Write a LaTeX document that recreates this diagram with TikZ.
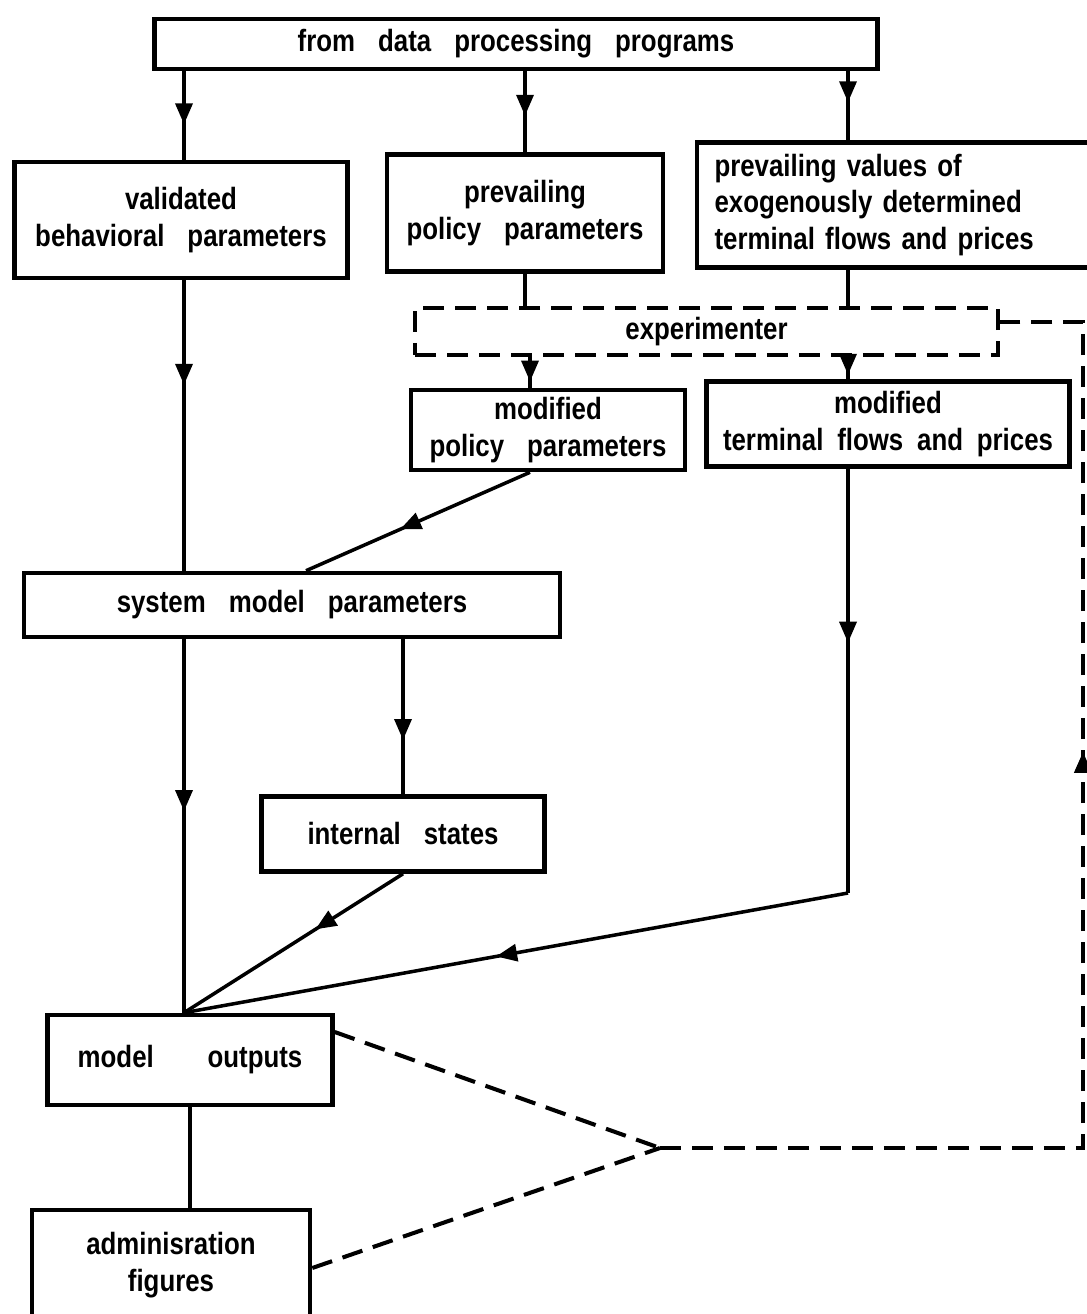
\documentclass[tikz,border=0pt]{standalone}
\usepackage{fontspec}
\setmainfont{Liberation Sans}[FakeStretch=0.84]
\usetikzlibrary{arrows.meta,decorations.markings}
% lettering used in the boxes: normal and tighter word spacing
\newcommand\lettering{\fontsize{17.5}{21}\selectfont\bfseries\spaceskip=0.75em plus 0.1em\relax}
\newcommand\letteringmid{\fontsize{17.5}{21}\selectfont\bfseries\spaceskip=0.55em plus 0.1em\relax}
\newcommand\letteringtight{\fontsize{17.5}{21}\selectfont\bfseries\spaceskip=0.45em plus 0.1em\relax}
\tikzset{
  blk/.style={draw, line width=2.6pt, inner sep=0pt, align=center, font=\lettering},
  conn/.style={line width=2pt},
  midtip/.style={postaction={decorate}, decoration={markings,
      mark=at position #1 with {\arrow{Triangle[length=0.42cm,width=0.34cm]}}}},
  dsh/.style={line width=2.3pt, dash pattern=on 0.42cm off 0.22cm},
}
\begin{document}
\begin{tikzpicture}[x=0.02cm, y=-0.02cm]
\useasboundingbox (0,0) rectangle (1087,1314);
\fill[white] (0,0) rectangle (1087,1314);

% column positions of the vertical connectors
\coordinate (c1) at (184,0);
\coordinate (c2) at (530,0);
\coordinate (c3) at (848,0);
\coordinate (c4) at (306,0);

% boxes
\node[blk, minimum width=14.46cm, minimum height=1.0cm] (src) at (516,44) {from data processing programs};
\node[blk, minimum width=6.66cm, minimum height=2.32cm] (vb) at (181,220) {validated\\behavioral parameters};
\node[blk, minimum width=5.52cm, minimum height=2.34cm] (pp) at (525,213) {prevailing\\policy parameters};
\node[blk, minimum width=7.9cm, minimum height=2.5cm, align=left, text width=7.2cm,
      font=\letteringmid] (pv) at (894.5,205)
  {prevailing values of\\exogenously determined\\terminal flows and prices};
\node[font=\lettering, draw, dsh, inner sep=0pt, minimum width=11.66cm, minimum height=0.94cm] (ex) at (706.5,331.5) {experimenter};
\node[blk, minimum width=5.48cm, minimum height=1.6cm] (mp) at (548,430) {modified\\policy parameters};
\node[blk, minimum width=7.26cm, minimum height=1.7cm, font=\letteringtight] (mt) at (888,424) {modified\\terminal flows and prices};
\node[blk, minimum width=10.72cm, minimum height=1.28cm] (sm) at (292,605) {system model parameters};
\node[blk, minimum width=5.66cm, minimum height=1.5cm] (is) at (403,834) {internal states};
\node[blk, minimum width=5.7cm, minimum height=1.8cm] (mo) at (190,1060) {model \quad outputs};
\node[blk, minimum width=5.56cm, minimum height=2.2cm] (af) at (171,1265) {adminisration\\figures};

% data feeds
\draw[conn, midtip=0.6] (src.south -| c1) -- (vb.north -| c1);
\draw[conn, midtip=0.55] (src.south -| pp.north) -- (pp.north);
\draw[conn, midtip=0.45] (src.south -| c3) -- (pv.north -| c3);

% into and out of the experimenter
\draw[conn] (pp.south) -- (ex.north -| pp.south);
\draw[conn] (pv.south -| c3) -- (ex.north -| c3);
\draw[conn, midtip=0.8] (ex.south -| c2) -- (mp.north -| c2);
\draw[conn, midtip=0.8] (ex.south -| c3) -- (mt.north -| c3);

% parameters into the system model
\draw[conn, midtip=0.36] (vb.south -| c1) -- (sm.north -| c1);
\draw[conn, midtip=0.58] (mp.south -| c2) -- (sm.north -| c4);

% system model to outputs
\coordinate (mix) at (mo.north -| c1);
\draw[conn, midtip=0.46] (sm.south -| c1) -- (mix);
\draw[conn, midtip=0.65] (sm.south -| is.north) -- (is.north);
\draw[conn, midtip=0.4] (is.south) -- (mix);
\coordinate (bend) at (848,893);
\draw[conn, midtip=0.41] (mt.south -| c3) -- (bend);
\draw[conn, midtip=0.53] (bend) -- (mix);
\draw[conn] (mo.south) -- (af.north -| mo.south);

% feedback to the experimenter
\coordinate (jn) at (660,1148);
\coordinate (rb) at (1083,1148);
\coordinate (rt) at (1083,322);
\draw[dsh] ([yshift=0.56cm]mo.east) -- (jn);
\draw[dsh] ([yshift=-0.06cm]af.east) -- (jn);
\draw[dsh, midtip=0.615] (jn) -- (rb) -- (rt) -- (ex.east |- rt);
\end{tikzpicture}
\end{document}
